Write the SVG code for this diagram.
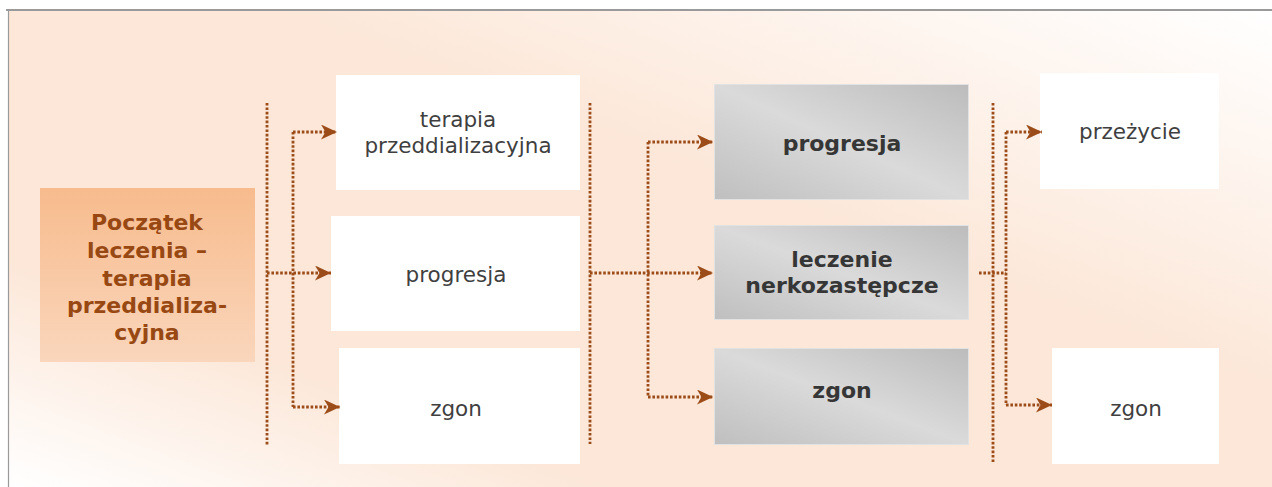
<svg xmlns="http://www.w3.org/2000/svg" width="1272" height="487" viewBox="0 0 1272 487">
<defs>
<linearGradient id="bg" x1="0" y1="1" x2="1" y2="0">
<stop offset="0" stop-color="#ffffff"/>
<stop offset="0.24" stop-color="#fce7d8"/>
<stop offset="0.6" stop-color="#fce7d8"/>
<stop offset="1" stop-color="#ffffff"/>
</linearGradient>
<linearGradient id="orange" x1="0" y1="0" x2="0" y2="1">
<stop offset="0" stop-color="#f7bb8d"/>
<stop offset="1" stop-color="#fad6bc"/>
</linearGradient>
<linearGradient id="gray" x1="0" y1="1" x2="1" y2="0">
<stop offset="0" stop-color="#bfbfbf"/>
<stop offset="0.5" stop-color="#dadada"/>
<stop offset="1" stop-color="#bcbcbc"/>
</linearGradient>
<marker id="arr" markerUnits="userSpaceOnUse" markerWidth="18" markerHeight="16" refX="16" refY="7.5" orient="auto">
<path d="M0,0 L16,7.5 L0,15 L4.5,7.5 z" fill="#9c4c18"/>
</marker>
</defs>
<style>
.conn{fill:none;stroke:#9c4c18;stroke-width:2.8;stroke-dasharray:2.6 1.8}
.wbox{fill:#ffffff}
.gbox{fill:url(#gray);stroke:#e2e2e2;stroke-width:1}
.t{font-family:"DejaVu Sans","Verdana",sans-serif;font-size:21.5px;fill:#3f3f3f;text-anchor:middle}
.tb{font-family:"DejaVu Sans","Verdana",sans-serif;font-size:22px;font-weight:bold;fill:#363636;text-anchor:middle}
.to{font-family:"DejaVu Sans","Verdana",sans-serif;font-size:22px;font-weight:bold;fill:#984812;text-anchor:middle}
</style>
<rect x="0" y="0" width="1272" height="487" fill="#ffffff"/>
<rect x="8" y="10" width="1264" height="477" fill="url(#bg)"/>
<line x1="6" y1="10" x2="1272" y2="10" stroke="#9a9a9a" stroke-width="2.2"/>
<line x1="8.5" y1="10" x2="8.5" y2="487" stroke="#9a9a9a" stroke-width="1.2"/>

<g id="start">
<rect x="40" y="188" width="215" height="174" fill="url(#orange)"/>
<text class="to" x="147" y="230">Początek</text>
<text class="to" x="147" y="258">leczenia –</text>
<text class="to" x="147" y="286">terapia</text>
<text class="to" x="147" y="313">przeddializa-</text>
<text class="to" x="147" y="340">cyjna</text>
</g>

<g id="a1">
<rect class="wbox" x="336" y="75" width="244" height="115"/>
<text class="t" x="458" y="127">terapia</text>
<text class="t" x="458" y="153">przeddializacyjna</text>
</g>
<g id="a2">
<rect class="wbox" x="331" y="216" width="249" height="115"/>
<text class="t" x="456" y="282">progresja</text>
</g>
<g id="a3">
<rect class="wbox" x="339" y="348" width="241" height="116"/>
<text class="t" x="456" y="416">zgon</text>
</g>

<g id="b1">
<rect class="gbox" x="714.5" y="84.5" width="254" height="115"/>
<text class="tb" x="842" y="151">progresja</text>
</g>
<g id="b2">
<rect class="gbox" x="714.5" y="225.5" width="254" height="94"/>
<text class="tb" x="842" y="267">leczenie</text>
<text class="tb" x="842" y="293">nerkozastępcze</text>
</g>
<g id="b3">
<rect class="gbox" x="714.5" y="348.5" width="254" height="96"/>
<text class="tb" x="842" y="398">zgon</text>
</g>

<g id="c1">
<rect class="wbox" x="1040" y="73" width="179" height="116"/>
<text class="t" x="1130" y="139">przeżycie</text>
</g>
<g id="c2">
<rect class="wbox" x="1052" y="348" width="167" height="116"/>
<text class="t" x="1136" y="416">zgon</text>
</g>

<g id="connectors">
<path class="conn" d="M267,103 V445"/>
<path class="conn" d="M267,273 H331" marker-end="url(#arr)"/>
<path class="conn" d="M293,132 V407"/>
<path class="conn" d="M293,132 H337" marker-end="url(#arr)"/>
<path class="conn" d="M293,407 H340" marker-end="url(#arr)"/>

<path class="conn" d="M590,103 V444"/>
<path class="conn" d="M590,273 H713" marker-end="url(#arr)"/>
<path class="conn" d="M648,142 V397"/>
<path class="conn" d="M648,142 H713" marker-end="url(#arr)"/>
<path class="conn" d="M648,397 H713" marker-end="url(#arr)"/>

<path class="conn" d="M993,103 V462"/>
<path class="conn" d="M979,273 H1006"/>
<path class="conn" d="M1006,132 V405"/>
<path class="conn" d="M1006,132 H1042" marker-end="url(#arr)"/>
<path class="conn" d="M1006,405 H1052" marker-end="url(#arr)"/>
</g>
</svg>
